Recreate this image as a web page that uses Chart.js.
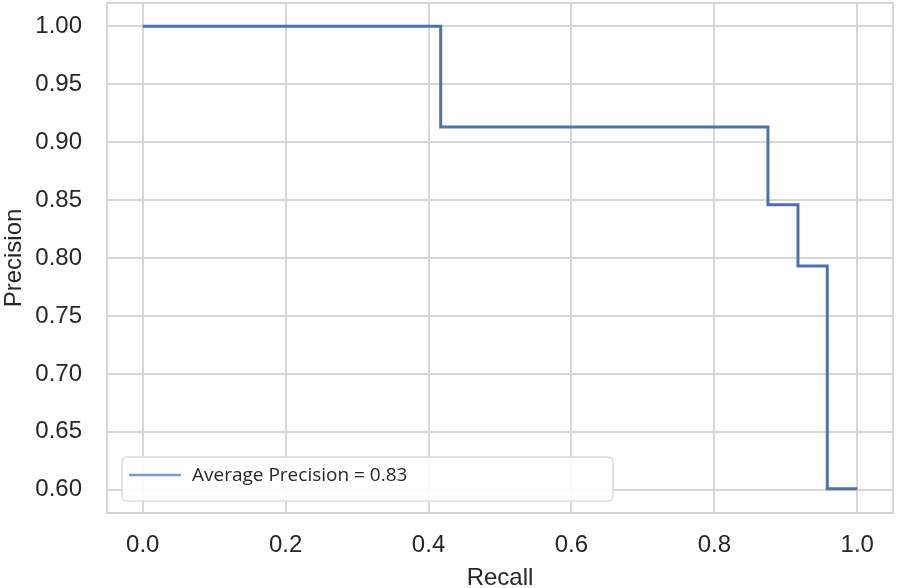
<!DOCTYPE html>
<html>
<head>
<meta charset="utf-8">
<script src="https://cdn.jsdelivr.net/npm/chart.js@4.4.1/dist/chart.umd.min.js"></script>
<style>
  html, body { margin: 0; padding: 0; background: #ffffff; }
  #wrap { width: 897px; height: 588px; position: relative; }
</style>
</head>
<body>
<div id="wrap"><canvas id="c" width="897" height="588"></canvas></div>
<script>
// Precision-recall curve (sklearn-style order: recall descending)
const recall    = [1.0, 0.958, 0.917, 0.875, 0.417, 0.0];
const precision = [0.601, 0.793, 0.846, 0.913, 1.0, 1.0];
const seriesLabel = 'Average Precision = 0.83';
const xTicks = [0.0, 0.2, 0.4, 0.6, 0.8, 1.0];
const yTicks = [0.60, 0.65, 0.70, 0.75, 0.80, 0.85, 0.90, 0.95, 1.00];
const xTitle = 'Recall';
const yTitle = 'Precision';

const points = recall.map((r, i) => ({ x: r, y: precision[i] }));
const GRID = '#d6d6d6';
const TEXT = '#262626';
const FONT = "'Liberation Sans', Arial, sans-serif";

const framePlugin = {
  id: 'frame',
  afterDraw(chart) {
    const { ctx, chartArea: a } = chart;
    ctx.save();
    ctx.strokeStyle = GRID;
    ctx.lineWidth = 2;
    ctx.strokeRect(a.left, a.top, a.right - a.left, a.bottom - a.top);
    ctx.restore();
  }
};

const legendPlugin = {
  id: 'boxLegend',
  afterDraw(chart) {
    const { ctx } = chart;
    const ds = chart.data.datasets[0];
    const x = 122, y = 457, w = 491, h = 44, r = 5;
    ctx.save();
    ctx.beginPath();
    ctx.moveTo(x + r, y);
    ctx.arcTo(x + w, y, x + w, y + h, r);
    ctx.arcTo(x + w, y + h, x, y + h, r);
    ctx.arcTo(x, y + h, x, y, r);
    ctx.arcTo(x, y, x + w, y, r);
    ctx.closePath();
    ctx.fillStyle = 'rgba(255,255,255,0.9)';
    ctx.fill();
    ctx.strokeStyle = '#dcdcdc';
    ctx.lineWidth = 1.5;
    ctx.stroke();
    ctx.beginPath();
    ctx.moveTo(129, y + 18);
    ctx.lineTo(181, y + 18);
    ctx.strokeStyle = '#7b9ad6';
    ctx.lineWidth = 2.5;
    ctx.stroke();
    ctx.fillStyle = TEXT;
    ctx.font = "19px 'Open Sans', sans-serif";
    ctx.textBaseline = 'middle';
    ctx.fillText(ds.label, 192, y + 19);
    ctx.restore();
  }
};

new Chart(document.getElementById('c'), {
  type: 'scatter',
  data: {
    datasets: [{
      label: seriesLabel,
      data: points,
      showLine: true,
      stepped: true,
      borderColor: '#4c72b0',
      backgroundColor: '#4c72b0',
      borderWidth: 3,
      pointRadius: 0,
      fill: false
    }]
  },
  options: {
    responsive: false,
    animation: false,
    devicePixelRatio: 1,
    layout: { padding: { top: 3, right: 4, left: 0, bottom: 0 } },
    plugins: {
      legend: { display: false },
      tooltip: { enabled: false }
    },
    scales: {
      x: {
        type: 'linear',
        min: -0.05,
        max: 1.05,
        afterBuildTicks(s) { s.ticks = xTicks.map(v => ({ value: v })); },
        afterFit(s) { s.height = 75; s.paddingLeft = 0; s.paddingRight = 0; },
        ticks: {
          callback: v => Number(v).toFixed(1),
          color: TEXT,
          font: { family: FONT, size: 24 },
          padding: 18,
          maxRotation: 0
        },
        grid: { color: GRID, lineWidth: 2, drawTicks: false },
        border: { display: false },
        title: {
          display: true,
          text: xTitle,
          color: TEXT,
          font: { family: FONT, size: 24 },
          padding: { top: 0, bottom: -5 }
        }
      },
      y: {
        type: 'linear',
        min: 0.58,
        max: 1.02,
        afterBuildTicks(s) { s.ticks = yTicks.map(v => ({ value: v })); },
        afterFit(s) { s.width = 107; s.paddingTop = 0; s.paddingBottom = 0; },
        ticks: {
          callback: v => Number(v).toFixed(2),
          color: TEXT,
          font: { family: FONT, size: 24 },
          padding: 25
        },
        grid: { color: GRID, lineWidth: 2, drawTicks: false },
        border: { display: false },
        title: {
          display: true,
          text: yTitle,
          color: TEXT,
          font: { family: FONT, size: 24 },
          padding: { top: 0, bottom: 0 }
        }
      }
    }
  },
  plugins: [framePlugin, legendPlugin]
});
</script>
</body>
</html>
